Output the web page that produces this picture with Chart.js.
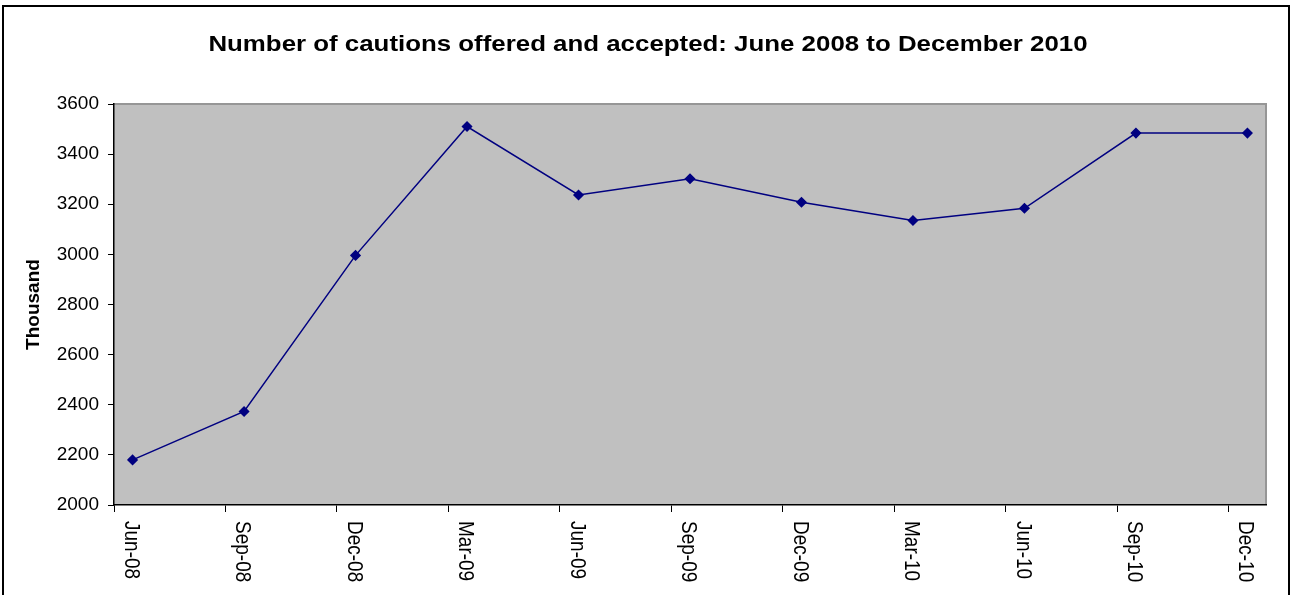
<!DOCTYPE html>
<html>
<head>
<meta charset="utf-8">
<script src="https://cdn.jsdelivr.net/npm/chart.js@4/dist/chart.umd.min.js"></script>
<style>
  html, body { margin: 0; padding: 0; background: #ffffff; }
  #wrap { width: 1294px; height: 595px; position: relative; }
</style>
</head>
<body>
<div id="wrap"><canvas id="c" width="1294" height="595"></canvas></div>
<script>
// ---- data ----
const chartTitle = 'Number of cautions offered and accepted: June 2008 to December 2010';
const categories = ['Jun-08','Sep-08','Dec-08','Mar-09','Jun-09','Sep-09','Dec-09','Mar-10','Jun-10','Sep-10','Dec-10'];
// months since 1 June 2008 (points plotted mid-month)
const monthPositions = [0.5, 3.5, 6.5, 9.5, 12.5, 15.5, 18.5, 21.5, 24.5, 27.5, 30.5];
const cautions = [2180, 2373, 2996, 3510, 3237, 3302, 3208, 3135, 3184, 3484, 3484];
const yTicks = [2000, 2200, 2400, 2600, 2800, 3000, 3200, 3400, 3600];

const FONT = '"Liberation Sans", Arial, sans-serif';
const HSTRETCH = 1.16;
const TITLE_STRETCH = 1.175;

const framePlugin = {
  id: 'frame',
  beforeDraw(chart) {
    const { ctx, chartArea: a } = chart;
    ctx.save();
    ctx.fillStyle = '#ffffff';
    ctx.fillRect(0, 0, chart.width, chart.height);
    ctx.fillStyle = '#c0c0c0';
    ctx.fillRect(a.left, a.top, a.right - a.left, a.bottom - a.top);
    ctx.strokeStyle = '#969696';
    ctx.lineWidth = 2;
    ctx.beginPath();
    ctx.moveTo(a.left, a.top);
    ctx.lineTo(a.right, a.top);
    ctx.lineTo(a.right, a.bottom);
    ctx.stroke();
    // title
    ctx.fillStyle = '#000000';
    ctx.font = 'bold 22px ' + FONT;
    ctx.textAlign = 'center';
    ctx.textBaseline = 'middle';
    ctx.save();
    ctx.translate(648, 45);
    ctx.scale(TITLE_STRETCH, 1);
    ctx.fillText(chartTitle, 0, 0);
    ctx.restore();
    ctx.restore();
  },
  afterDraw(chart) {
    const { ctx } = chart;
    const xs = chart.scales.x;
    ctx.save();
    // x labels, rotated clockwise
    ctx.fillStyle = '#000000';
    ctx.font = '19px ' + FONT;
    ctx.textAlign = 'left';
    ctx.textBaseline = 'middle';
    categories.forEach((lab, i) => {
      const x = xs.getPixelForValue(monthPositions[i] - 0.05);
      ctx.save();
      ctx.translate(x, 521);
      ctx.rotate(Math.PI / 2);
      ctx.scale(1, HSTRETCH);
      ctx.fillText(lab, 0, 0);
      ctx.restore();
    });
    // outer frame
    ctx.strokeStyle = '#000000';
    ctx.lineWidth = 2;
    ctx.strokeRect(3, 6, 1286, 620);
    ctx.restore();
  }
};

new Chart(document.getElementById('c'), {
  type: 'line',
  data: {
    datasets: [{
      data: categories.map((c, i) => ({ x: monthPositions[i], y: cautions[i] })),
      borderColor: '#000080',
      backgroundColor: '#000080',
      borderWidth: 1.5,
      pointStyle: 'rectRot',
      pointRadius: 4.5,
      pointHoverRadius: 4.5,
      pointBackgroundColor: '#000080',
      pointBorderColor: '#000080',
      tension: 0,
      fill: false
    }]
  },
  plugins: [framePlugin],
  options: {
    responsive: false,
    animation: false,
    events: [],
    layout: { padding: { left: 0, right: 28, top: 104, bottom: 0 } },
    plugins: {
      legend: { display: false },
      tooltip: { enabled: false },
      title: { display: false }
    },
    scales: {
      x: {
        type: 'linear',
        min: 0,
        max: 31,
        afterBuildTicks(scale) {
          scale.ticks = categories.map((c, i) => ({ value: i * 3 }));
        },
        afterFit(scale) { scale.height = 90; },
        ticks: { display: true, callback: () => '', font: { family: FONT, size: 18 } },
        grid: { drawOnChartArea: false, drawTicks: true, tickLength: 7, color: '#000000', lineWidth: 1 },
        border: { display: true, color: '#000000', width: 1.5 }
      },
      y: {
        type: 'linear',
        min: yTicks[0],
        max: yTicks[yTicks.length - 1],
        afterBuildTicks(scale) {
          scale.ticks = yTicks.map(v => ({ value: v }));
        },
        afterFit(scale) { scale.width = 114; },
        ticks: {
          color: '#000000',
          padding: 9,
          font: { family: FONT, size: 19 },
          callback: (v) => String(v)
        },
        grid: { drawOnChartArea: false, drawTicks: true, tickLength: 6, color: '#000000', lineWidth: 1 },
        border: { display: true, color: '#000000', width: 1.5 },
        title: {
          display: true,
          text: 'Thousand',
          color: '#000000',
          font: { family: FONT, size: 19, weight: 'bold', lineHeight: 1.2 },
          padding: { top: 22, bottom: 0 }
        }
      }
    }
  }
});
</script>
</body>
</html>
